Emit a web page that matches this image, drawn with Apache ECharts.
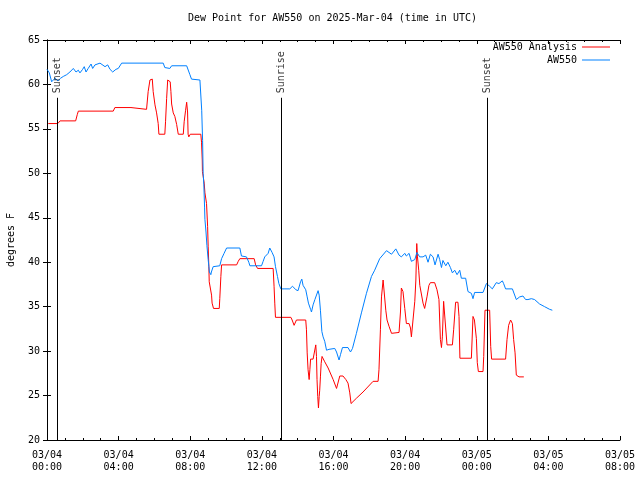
<!DOCTYPE html>
<html>
<head>
<meta charset="utf-8">
<script src="https://cdn.jsdelivr.net/npm/echarts@6/dist/echarts.min.js"></script>
<style>html,body{margin:0;padding:0;background:#fff}#c{width:640px;height:480px}</style>
</head>
<body>
<div id="c"></div>
<script>
// hours since 2025-03-04 00:00 UTC
const xTickLabels = ['03/04\n00:00','03/04\n04:00','03/04\n08:00','03/04\n12:00','03/04\n16:00','03/04\n20:00','03/05\n00:00','03/05\n04:00','03/05\n08:00'];
const seriesNames = ['AW550 Analysis', 'AW550'];
const eventNames = ['Sunset', 'Sunrise', 'Sunset'];
const eventHours = [0.56, 13.07, 24.58];

const analysisHours = [0.07,0.60,0.73,1.60,1.69,1.75,3.70,3.79,4.69,4.76,5.56,5.65,5.75,5.80,5.88,5.93,6.03,6.12,6.21,6.25,6.58,6.62,6.68,6.74,6.81,6.88,6.92,6.96,7.05,7.14,7.24,7.33,7.61,7.66,7.74,7.80,7.85,7.88,7.92,8.00,8.59,8.63,8.67,8.68,8.78,8.82,8.91,8.97,9.00,9.04,9.06,9.15,9.19,9.22,9.30,9.62,9.65,9.71,9.75,10.59,10.68,10.77,11.57,11.65,11.76,12.63,12.68,12.72,12.76,13.62,13.69,13.80,13.93,14.45,14.49,14.53,14.58,14.64,14.68,14.72,14.79,14.86,14.94,15.01,15.05,15.08,15.12,15.16,15.20,15.23,15.27,15.31,15.36,15.51,15.70,15.98,16.17,16.35,16.53,16.69,16.81,16.91,16.98,17.28,17.65,18.21,18.49,18.54,18.62,18.68,18.77,18.81,18.92,18.99,19.10,19.24,19.66,19.74,19.79,19.88,19.98,20.07,20.22,20.30,20.35,20.45,20.54,20.60,20.65,20.69,20.76,20.82,20.91,21.00,21.09,21.19,21.22,21.33,21.41,21.65,21.78,21.89,21.97,22.03,22.08,22.15,22.23,22.34,22.64,22.71,22.82,22.95,23.01,23.06,23.70,23.79,23.87,23.98,24.03,24.09,24.35,24.39,24.46,24.72,24.78,24.83,25.61,25.69,25.78,25.89,25.99,26.06,26.14,26.21,26.36,26.63];
const analysisValues = [55.6,55.6,55.9,55.9,56.6,57.0,57.0,57.4,57.4,57.2,57.2,59.2,60.5,60.7,60.6,59.2,57.7,56.8,55.6,54.4,54.4,55.8,58.4,60.5,60.6,60.3,59.2,57.8,56.8,56.4,55.5,54.4,54.4,55.8,57.1,58.0,56.9,54.4,54.1,54.4,54.4,53.5,51.5,50.2,48.9,47.8,46.6,44.0,41.8,39.5,37.8,37.6,36.3,35.4,34.8,34.8,35.9,38.4,39.7,39.7,40.1,40.4,40.4,39.7,39.3,39.3,37.3,35.4,33.8,33.8,33.5,32.9,33.5,33.5,32.4,29.8,27.9,26.8,27.9,29.1,29.2,29.1,29.2,30.7,29.4,26.8,24.9,23.6,24.9,25.6,27.1,28.6,29.4,28.8,28.1,26.8,25.8,27.2,27.2,26.8,26.4,25.3,24.1,24.7,25.4,26.6,26.6,27.9,32.4,36.1,38.0,37.1,34.6,33.5,32.8,32.0,32.1,34.4,37.1,36.7,34.8,33.1,33.1,32.6,31.6,31.6,35.6,38.0,42.1,40.6,39.1,37.4,37.3,35.4,34.8,34.8,36.1,37.4,37.7,37.7,36.9,35.8,31.3,30.4,31.6,35.6,33.5,30.7,30.7,32.4,35.5,35.5,33.9,29.2,29.2,33.9,33.5,31.4,28.7,27.7,27.7,29.4,34.6,34.6,30.5,29.1,29.1,31.3,32.9,33.5,33.1,31.3,29.8,27.3,27.1,27.1];

const obsHours = [0.00,0.13,0.26,0.45,0.61,0.76,0.91,1.10,1.28,1.47,1.62,1.75,1.84,1.99,2.08,2.18,2.30,2.46,2.55,2.68,2.77,2.96,3.05,3.24,3.39,3.52,3.67,3.85,3.98,4.17,6.49,6.58,6.86,6.96,7.80,7.98,8.07,8.54,8.60,8.64,8.69,8.72,8.76,8.80,8.82,8.88,8.93,9.00,9.07,9.15,9.18,9.28,9.65,9.75,9.89,10.03,10.77,10.86,11.14,11.27,11.33,11.98,12.07,12.16,12.35,12.44,12.57,12.68,12.76,12.87,12.95,13.06,13.56,13.71,13.90,14.02,14.16,14.23,14.30,14.40,14.45,14.53,14.60,14.72,14.77,14.86,14.96,15.05,15.14,15.20,15.27,15.35,15.42,15.51,15.61,15.75,16.07,16.17,16.31,16.39,16.50,16.81,16.95,17.06,17.28,17.56,17.84,18.12,18.30,18.58,18.96,19.24,19.48,19.66,19.79,19.98,20.07,20.22,20.35,20.54,20.66,20.81,21.00,21.15,21.28,21.41,21.56,21.67,21.84,21.93,22.03,22.11,22.27,22.39,22.53,22.64,22.77,22.90,23.05,23.14,23.38,23.51,23.70,23.79,23.88,24.35,24.54,24.72,24.87,25.09,25.24,25.43,25.50,25.61,25.99,26.21,26.40,26.58,26.73,26.86,27.05,27.23,27.51,27.79,28.07,28.22];
const obsValues = [61.7,61.3,60.3,60.7,60.4,60.7,60.9,61.1,61.4,61.8,61.4,61.6,61.3,61.7,62.0,61.4,61.8,62.3,61.8,62.2,62.0,62.4,62.2,62.0,62.2,61.7,61.4,61.7,61.8,62.4,62.4,61.9,61.8,62.1,62.1,61.1,60.6,60.5,60.4,57.1,53.7,50.0,48.7,46.2,44.8,43.4,41.9,40.3,38.9,38.6,38.9,39.5,39.6,40.4,41.0,41.6,41.6,40.7,40.6,40.0,39.6,39.6,40.1,40.6,41.0,41.6,41.1,40.6,39.5,38.4,37.6,37.0,37.0,37.3,36.9,36.8,37.8,38.1,37.4,37.6,36.9,36.1,35.4,34.7,34.4,35.2,35.8,35.6,36.8,36.3,34.6,32.2,31.6,31.1,30.1,30.2,30.3,29.9,29.0,29.6,30.4,30.4,29.9,30.3,32.0,34.3,36.5,38.4,39.1,40.4,41.3,40.9,41.5,40.8,40.6,41.0,40.7,41.0,40.1,40.3,41.1,40.6,40.6,40.8,40.0,40.9,40.6,39.7,40.9,40.3,39.4,40.2,39.6,40.0,39.4,38.8,39.1,38.6,39.1,38.2,38.2,36.7,36.5,35.9,36.6,36.6,37.6,37.3,37.0,37.7,37.6,37.9,37.6,37.0,37.0,35.8,36.1,36.2,35.8,35.8,35.9,35.8,35.3,35.0,34.7,34.6];

const FONT = 'DejaVu Sans Mono';
const zip = (a, b) => a.map((v, i) => [v, b[i]]);
const LINE_TOP = 58.5, LABEL_AT = 59.0;

const chart = echarts.init(document.getElementById('c'), null, {renderer: 'canvas'});
const commonTick = {show: true, inside: true, length: 4, lineStyle: {color: '#000'}};
const commonMinor = {show: true, splitNumber: 4, length: 2, lineStyle: {color: '#000'}};
const legendText = {fontFamily: FONT, fontSize: 10, color: '#000'};
chart.setOption({
  animation: false,
  backgroundColor: '#fff',
  title: {
    text: 'Dew Point for AW550 on 2025-Mar-04 (time in UTC)',
    left: 188, top: 13, padding: 0,
    textStyle: {fontFamily: FONT, fontSize: 10, fontWeight: 'normal', color: '#000'}
  },
  legend: [
    {data: [{name: seriesNames[0], icon: 'rect'}], right: 30, top: 42, padding: 0, align: 'right',
     itemWidth: 28, itemHeight: 1, textStyle: legendText},
    {data: [{name: seriesNames[1], icon: 'rect'}], right: 30, top: 55, padding: 0, align: 'right',
     itemWidth: 28, itemHeight: 1, textStyle: legendText}
  ],
  grid: {left: 47, right: 20, top: 40, bottom: 40, containLabel: false, outerBoundsMode: 'none'},
  xAxis: [
    {type: 'value', min: 0, max: 32, interval: 4, position: 'bottom',
     axisLine: {lineStyle: {color: '#000', width: 1}},
     axisTick: commonTick, minorTick: commonMinor,
     splitLine: {show: false}, minorSplitLine: {show: false},
     axisLabel: {formatter: v => xTickLabels[Math.round(v / 4)], fontFamily: FONT, fontSize: 10, color: '#000', margin: 9, lineHeight: 12}},
    {type: 'value', min: 0, max: 32, interval: 4, position: 'top',
     axisLine: {lineStyle: {color: '#000', width: 1}},
     axisTick: commonTick, minorTick: commonMinor,
     splitLine: {show: false}, axisLabel: {show: false}}
  ],
  yAxis: [
    {type: 'value', min: 20, max: 65, interval: 5, position: 'left',
     name: 'degrees F', nameLocation: 'middle', nameGap: 31, nameRotate: 90,
     nameTextStyle: {fontFamily: FONT, fontSize: 10, color: '#000'},
     axisLine: {show: true, lineStyle: {color: '#000', width: 1}},
     axisTick: commonTick, splitLine: {show: false},
     axisLabel: {fontFamily: FONT, fontSize: 10, color: '#000', margin: 7}},
    {type: 'value', min: 20, max: 65, interval: 5, position: 'right',
     axisLine: {show: true, lineStyle: {color: '#000', width: 1}},
     axisTick: commonTick, splitLine: {show: false}, axisLabel: {show: false}}
  ],
  series: [
    {name: seriesNames[0], type: 'line', data: zip(analysisHours, analysisValues),
     symbol: 'none', lineStyle: {color: '#ff0000', width: 1}, itemStyle: {color: '#ff0000'}, z: 3},
    {name: seriesNames[1], type: 'line', data: zip(obsHours, obsValues),
     symbol: 'none', lineStyle: {color: '#0080ff', width: 1}, itemStyle: {color: '#0080ff'}, z: 4},
    {name: 'events', type: 'scatter', symbolSize: 0, z: 5,
     data: eventHours.map((h, i) => [h, LABEL_AT, eventNames[i]]),
     label: {show: true, position: 'inside', rotate: 90, align: 'left', verticalAlign: 'middle',
             formatter: p => p.data[2], fontFamily: FONT, fontSize: 10, color: '#000'},
     markLine: {silent: true, symbol: 'none', animation: false,
       lineStyle: {color: '#000', width: 1, type: 'solid'}, label: {show: false},
       data: eventHours.map(h => [{coord: [h, 20]}, {coord: [h, LINE_TOP]}])}}
  ]
});
</script>
</body>
</html>
